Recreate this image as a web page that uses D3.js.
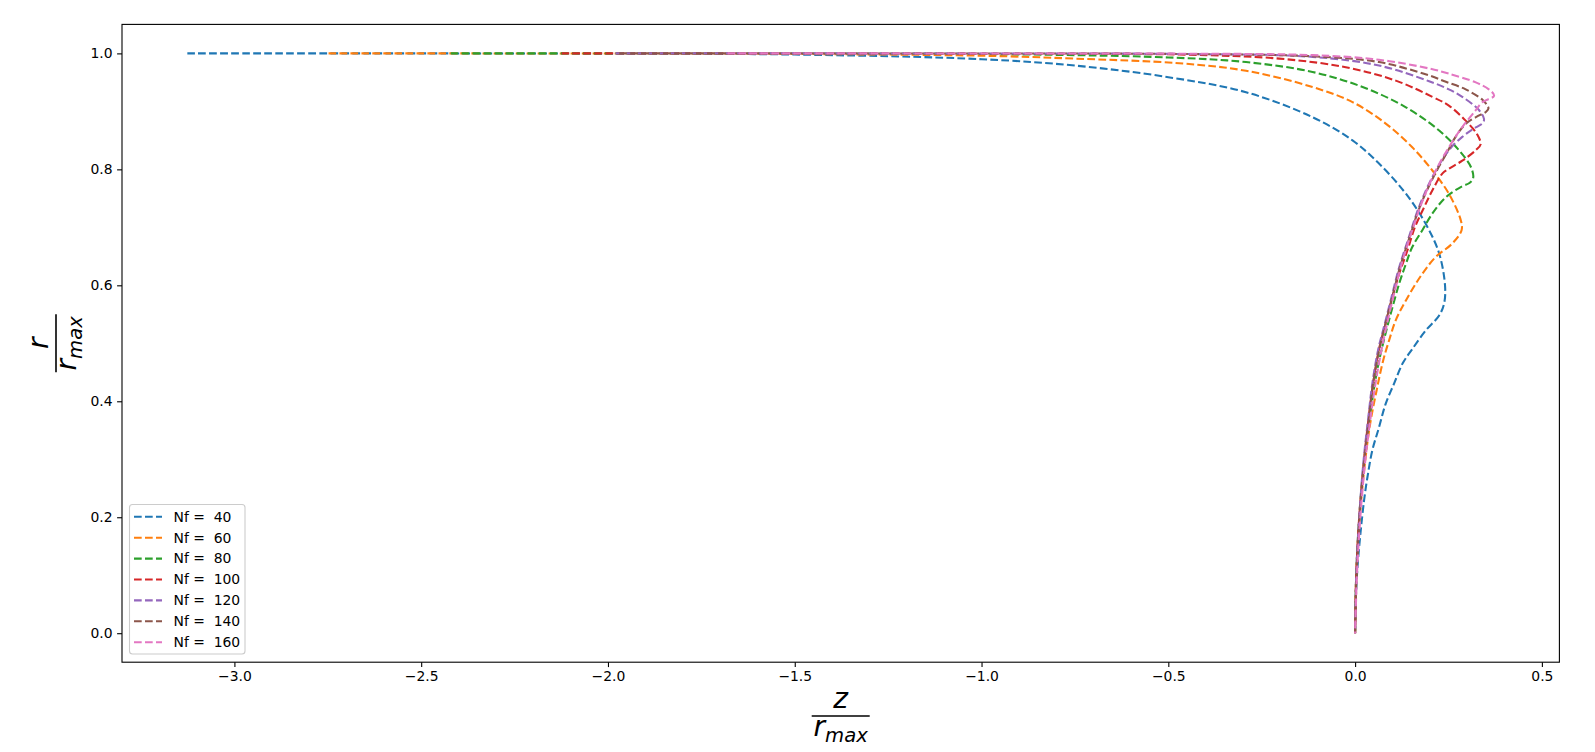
<!DOCTYPE html>
<html>
<head>
<meta charset="utf-8">
<script src="https://cdn.jsdelivr.net/npm/d3@7"></script>
<style>
  html, body { margin: 0; padding: 0; background: #fff; }
  svg { display: block; }
  text { font-family: "DejaVu Sans", sans-serif; }
</style>
</head>
<body>
<svg id="chart" width="1595" height="752"></svg>
<script>
// ---- data ----
const categories = [40, 60, 80, 100, 120, 140, 160];
const seriesColors = ["#1f77b4", "#ff7f0e", "#2ca02c", "#d62728", "#9467bd", "#8c564b", "#e377c2"];
const xTicks = [-3.0, -2.5, -2.0, -1.5, -1.0, -0.5, 0.0, 0.5];
const yTicks = [0.0, 0.2, 0.4, 0.6, 0.8, 1.0];

const z40 = [-3.126, -2.5, -2.0, -1.5, -1.0, -0.75, -0.5, -0.292, -0.114, -0.007, 0.064, 0.136, 0.189, 0.225, 0.241, 0.238, 0.225, 0.189, 0.153, 0.127, 0.104, 0.082, 0.064, 0.046, 0.033, 0.024, 0.014, 0.006, 0.002, 0];
const r40 = [1.0, 1.0, 0.9995, 0.998, 0.990, 0.979, 0.959, 0.933, 0.890, 0.850, 0.810, 0.758, 0.706, 0.655, 0.597, 0.568, 0.548, 0.522, 0.490, 0.465, 0.430, 0.396, 0.355, 0.315, 0.269, 0.229, 0.170, 0.110, 0.060, 0];

const z60 = [-2.748, -2.0, -1.5, -1.0, -0.75, -0.471, -0.292, -0.114, -0.007, 0.082, 0.153, 0.207, 0.251, 0.283, 0.285, 0.260, 0.216, 0.180, 0.136, 0.109, 0.091, 0.075, 0.058, 0.040, 0.024, 0.010, 0.003, 0];
const r60 = [1.0, 0.9998, 0.999, 0.996, 0.991, 0.983, 0.970, 0.942, 0.916, 0.879, 0.838, 0.798, 0.758, 0.712, 0.695, 0.672, 0.649, 0.620, 0.574, 0.540, 0.505, 0.470, 0.420, 0.360, 0.280, 0.180, 0.100, 0];

const z80 = [-2.421, -2.0, -1.5, -1.0, -0.5, -0.292, -0.114, 0.020, 0.136, 0.225, 0.278, 0.310, 0.316, 0.305, 0.287, 0.243, 0.207, 0.180, 0.153, 0.136, 0.118, 0.095, 0.075, 0.058, 0.043, 0.028, 0.017, 0.008, 0.002, 0];
const r80 = [1.0, 1.0, 0.9997, 0.999, 0.993, 0.985, 0.968, 0.942, 0.907, 0.867, 0.833, 0.804, 0.785, 0.776, 0.771, 0.752, 0.724, 0.695, 0.666, 0.637, 0.603, 0.550, 0.500, 0.450, 0.390, 0.320, 0.250, 0.170, 0.080, 0];

const z100 = [-2.124, -1.5, -1.0, -0.471, -0.203, -0.025, 0.109, 0.207, 0.251, 0.296, 0.327, 0.336, 0.323, 0.287, 0.251, 0.234, 0.207, 0.185, 0.160, 0.140, 0.118, 0.100, 0.080, 0.064, 0.048, 0.036, 0.024, 0.011, 0.003, 0];
const r100 = [1.0, 1.0, 0.9995, 0.998, 0.991, 0.976, 0.953, 0.925, 0.910, 0.884, 0.860, 0.843, 0.833, 0.815, 0.801, 0.793, 0.764, 0.735, 0.700, 0.660, 0.620, 0.580, 0.530, 0.490, 0.430, 0.370, 0.300, 0.200, 0.100, 0];

const z120 = [-1.98, -1.5, -1.0, -0.471, -0.114, 0.064, 0.198, 0.251, 0.287, 0.332, 0.345, 0.342, 0.314, 0.287, 0.251, 0.207, 0.171, 0.144, 0.118, 0.100, 0.078, 0.062, 0.046, 0.035, 0.023, 0.011, 0.003, 0];
const r120 = [1.0, 1.0, 0.9997, 0.999, 0.994, 0.979, 0.952, 0.938, 0.925, 0.902, 0.887, 0.880, 0.869, 0.856, 0.833, 0.787, 0.735, 0.683, 0.631, 0.586, 0.530, 0.490, 0.430, 0.370, 0.300, 0.200, 0.100, 0];

const z140 = [-1.97, -1.5, -1.0, -0.471, -0.114, 0.064, 0.198, 0.243, 0.296, 0.341, 0.354, 0.357, 0.350, 0.332, 0.297, 0.269, 0.251, 0.210, 0.173, 0.146, 0.120, 0.102, 0.080, 0.065, 0.048, 0.037, 0.025, 0.012, 0.004, 0];
const r140 = [1.0, 1.0, 0.9998, 0.999, 0.995, 0.985, 0.962, 0.951, 0.938, 0.920, 0.910, 0.905, 0.899, 0.893, 0.879, 0.856, 0.835, 0.787, 0.735, 0.683, 0.631, 0.586, 0.530, 0.490, 0.430, 0.370, 0.300, 0.200, 0.100, 0];

const z160 = [-1.68, -1.0, -0.471, -0.114, 0.064, 0.198, 0.251, 0.323, 0.358, 0.372, 0.341, 0.323, 0.287, 0.251, 0.216, 0.180, 0.152, 0.126, 0.106, 0.086, 0.068, 0.052, 0.039, 0.026, 0.014, 0.005, 0];
const r160 = [1.0, 0.9999, 0.9995, 0.997, 0.989, 0.974, 0.965, 0.950, 0.938, 0.927, 0.916, 0.902, 0.873, 0.838, 0.798, 0.745, 0.693, 0.640, 0.590, 0.535, 0.480, 0.420, 0.360, 0.290, 0.200, 0.100, 0];

const zSeries = [z40, z60, z80, z100, z120, z140, z160];
const rSeries = [r40, r60, r80, r100, r120, r140, r160];

// ---- layout ----
const W = 1595, H = 752;
const plot = { left: 122, top: 24.4, right: 1559.4, bottom: 662.2 };

const svg = d3.select("#chart");

const allZ = d3.merge(zSeries), allR = d3.merge(rSeries);
const zMin = d3.min(allZ), zMax = d3.max(allZ);
const rMin = d3.min(allR), rMax = d3.max(allR);
const zPad = (zMax - zMin) * 0.05, rPad = (rMax - rMin) * 0.05;

const x = d3.scaleLinear().domain([zMin - zPad, zMax + zPad]).range([plot.left, plot.right]);
const y = d3.scaleLinear().domain([rMin - rPad, rMax + rPad]).range([plot.bottom, plot.top]);

const fmt = v => d3.format(".1f")(v).replace("-", "\u2212");

// axes
const xAxis = d3.axisBottom(x).tickValues(xTicks).tickFormat(fmt).tickSizeOuter(0).tickSize(4.9).tickPadding(4.5);
const yAxis = d3.axisLeft(y).tickValues(yTicks).tickFormat(fmt).tickSizeOuter(0).tickSize(4.9).tickPadding(4.5);

const gx = svg.append("g").attr("transform", `translate(0,${plot.bottom})`).call(xAxis);
const gy = svg.append("g").attr("transform", `translate(${plot.left},0)`).call(yAxis);
[gx, gy].forEach(g => {
  g.select(".domain").remove();
  g.selectAll(".tick line").attr("stroke", "#000").attr("stroke-width", 1.1);
  g.selectAll(".tick text").attr("fill", "#000").style("font-size", "13.9px").style("font-family", "DejaVu Sans");
});

// clip
svg.append("clipPath").attr("id", "clip").append("rect")
  .attr("x", plot.left).attr("y", plot.top)
  .attr("width", plot.right - plot.left).attr("height", plot.bottom - plot.top);

// lines
const line = d3.line().x(d => x(d[0])).y(d => y(d[1])).curve(d3.curveCatmullRom.alpha(0.5));
const gLines = svg.append("g").attr("clip-path", "url(#clip)");
categories.forEach((c, i) => {
  const pts = zSeries[i].map((z, k) => [z, rSeries[i][k]]);
  gLines.append("path")
    .attr("d", line(pts))
    .attr("fill", "none")
    .attr("stroke", seriesColors[i])
    .attr("stroke-width", 2.08)
    .attr("stroke-dasharray", "7.7,3.3");
});

// frame
svg.append("rect")
  .attr("x", plot.left).attr("y", plot.top)
  .attr("width", plot.right - plot.left).attr("height", plot.bottom - plot.top)
  .attr("fill", "none").attr("stroke", "#000").attr("stroke-width", 1.1);

// legend
const leg = { x: 129.5, y: 504.5, w: 115.5, h: 149.5 };
svg.append("rect")
  .attr("x", leg.x).attr("y", leg.y).attr("width", leg.w).attr("height", leg.h)
  .attr("rx", 3).attr("ry", 3)
  .attr("fill", "rgba(255,255,255,0.8)").attr("stroke", "#cccccc").attr("stroke-width", 1.1);
categories.forEach((c, i) => {
  const cy = 516.8 + i * 20.9;
  svg.append("line")
    .attr("x1", 134).attr("x2", 162).attr("y1", cy).attr("y2", cy)
    .attr("stroke", seriesColors[i]).attr("stroke-width", 2.08)
    .attr("stroke-dasharray", "7.7,3.3");
  svg.append("text")
    .attr("x", 173.5).attr("y", cy).attr("dy", "0.35em")
    .style("font-size", "13.9px").style("white-space", "pre")
    .attr("xml:space", "preserve")
    .text("Nf =  " + c);
});

// axis labels (fractions)
const labelSize = 28;
// x label
const xl = svg.append("g").attr("transform", `translate(${(plot.left + plot.right) / 2},0)`);
xl.append("text").attr("x", 0).attr("y", 708).attr("text-anchor", "middle")
  .style("font-size", labelSize + "px").style("font-style", "italic").text("z");
xl.append("line").attr("x1", -29).attr("x2", 29).attr("y1", 716).attr("y2", 716)
  .attr("stroke", "#000").attr("stroke-width", 1.6);
const xd = xl.append("text").attr("x", 0).attr("y", 736).attr("text-anchor", "middle")
  .style("font-size", labelSize + "px").style("font-style", "italic");
xd.append("tspan").text("r");
xd.append("tspan").attr("dy", 6).style("font-size", (labelSize * 0.7) + "px").text("max");

// y label
const yl = svg.append("g").attr("transform", `translate(56,${(plot.top + plot.bottom) / 2}) rotate(-90)`);
yl.append("text").attr("x", 0).attr("y", -8).attr("text-anchor", "middle")
  .style("font-size", labelSize + "px").style("font-style", "italic").text("r");
yl.append("line").attr("x1", -29).attr("x2", 29).attr("y1", 0).attr("y2", 0)
  .attr("stroke", "#000").attr("stroke-width", 1.6);
const yd = yl.append("text").attr("x", 0).attr("y", 20).attr("text-anchor", "middle")
  .style("font-size", labelSize + "px").style("font-style", "italic");
yd.append("tspan").text("r");
yd.append("tspan").attr("dy", 6).style("font-size", (labelSize * 0.7) + "px").text("max");
</script>
</body>
</html>
